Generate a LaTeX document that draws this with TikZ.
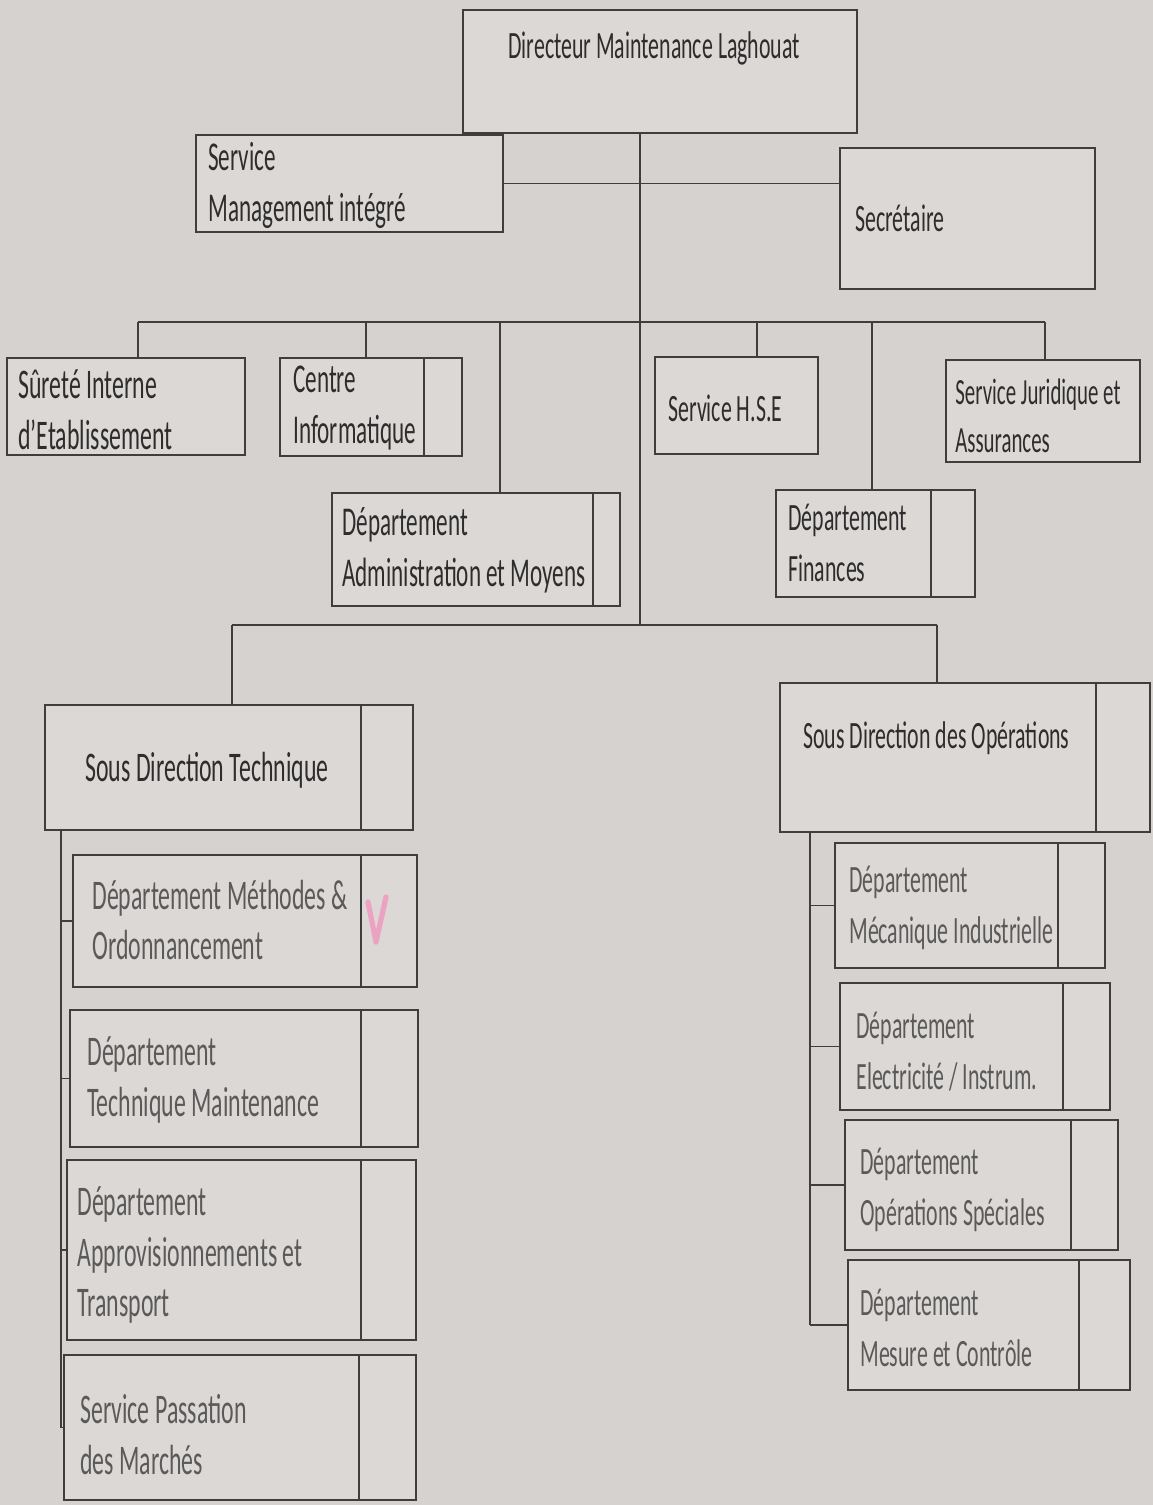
\documentclass[tikz,border=0pt]{standalone}
\usepackage{fontspec}
\setmainfont{Carlito}[FakeStretch=0.565]
\usetikzlibrary{fit,calc}
\definecolor{bgc}{RGB}{214,210,208}
\definecolor{boxc}{RGB}{220,216,214}
\definecolor{linec}{RGB}{62,62,62}
\definecolor{textc}{RGB}{45,45,45}
\definecolor{textl}{RGB}{90,90,90}
\definecolor{pinkc}{RGB}{240,150,190}
\begin{document}
\begin{tikzpicture}[x=0.02cm,y=-0.02cm,
  box/.style={draw=linec, fill=boxc, line width=1pt, inner sep=0pt},
  wire/.style={draw=linec, line width=1pt},
  txt/.style={anchor=west, align=left, inner sep=0pt, text=textc,
    font=\fontsize{22}{29}\selectfont},
  txtm/.style={txt, font=\fontsize{23.3}{29}\selectfont},
  txtb/.style={txt, font=\fontsize{24}{29}\selectfont},
  txtl/.style={txt, text=textl},
  txtlb/.style={txtb, text=textl},
  txts/.style={txt, font=\fontsize{21}{27}\selectfont}]
\newcommand\divline[2]{\draw[wire] ([xshift={-(#2)*0.02cm}]#1.north east) -- ([xshift={-(#2)*0.02cm}]#1.south east);}
% background / bounding box
\fill[bgc] (0,0) rectangle (1153,1505);

% ---------- boxes ----------
\node[box, fit={(463,10) (857,133)}] (dir) {};
\node[box, fit={(196,135) (503,232)}] (smi) {};
\node[box, fit={(840,148) (1095,289)}] (sec) {};

\node[box, fit={(7,358) (245,455)}] (sie) {};
\node[box, fit={(280,358) (462,456)}] (ci) {};
\node[box, fit={(655,357) (818,454)}] (hse) {};
\node[box, fit={(946,360) (1140,462)}] (sja) {};
\node[box, fit={(332,493) (620,606)}] (dam) {};
\node[box, fit={(776,490) (975,597)}] (dfi) {};

\node[box, fit={(45,705) (413,830)}] (sdt) {};
\node[box, fit={(780,683) (1150,832)}] (sdo) {};

\node[box, fit={(73,855) (417,987)}] (dmo) {};
\node[box, fit={(70,1010) (418,1147)}] (dtm) {};
\node[box, fit={(67,1160) (416,1340)}] (dat) {};
\node[box, fit={(64,1355) (416,1500)}] (spm) {};

\node[box, fit={(835,843) (1105,968)}] (dmi) {};
\node[box, fit={(840,983) (1110,1110)}] (dei) {};
\node[box, fit={(845,1120) (1118,1250)}] (dos) {};
\node[box, fit={(848,1260) (1130,1390)}] (dmc) {};

% ---------- dividers ----------
\divline{ci}{39}
\divline{dam}{28}
\divline{dfi}{45}
\divline{sdt}{53}
\divline{sdo}{55}
\divline{dmo}{57}
\divline{dtm}{58}
\divline{dat}{56}
\divline{spm}{58}
\divline{dmi}{48}
\divline{dei}{48}
\divline{dos}{48}
\divline{dmc}{52}

% ---------- connectors ----------
\coordinate (t1) at (640,322);
\coordinate (t2) at (640,625);
\draw[wire] (dir.south -| t1) -- (t2);
\draw[wire] (smi.east) -- (smi.east -| sec.west);

\coordinate (b1) at (138,322);
\coordinate (b2) at (366,322);
\coordinate (b3) at (500,322);
\coordinate (b4) at (757,322);
\coordinate (b5) at (872,322);
\coordinate (b6) at (1045,322);
\draw[wire] (b1) -- (b6);
\draw[wire] (b1) -- (b1 |- sie.north);
\draw[wire] (b2) -- (b2 |- ci.north);
\draw[wire] (b3) -- (b3 |- dam.north);
\draw[wire] (b4) -- (b4 |- hse.north);
\draw[wire] (b5) -- (b5 |- dfi.north);
\draw[wire] (b6) -- (b6 |- sja.north);

\coordinate (c1) at (232,625);
\coordinate (c2) at (937,625);
\draw[wire] (c1) -- (c2);
\draw[wire] (c1) -- (c1 |- sdt.north);
\draw[wire] (c2) -- (c2 |- sdo.north);

\coordinate (ls) at (61,830);
\draw[wire] (ls |- sdt.south) -- (ls |- spm.west);
\foreach \b in {dmo,dtm,dat,spm} \draw[wire] (ls |- \b.west) -- (\b.west);

\coordinate (rs) at (810,832);
\draw[wire] (rs |- sdo.south) -- (rs |- dmc.west);
\foreach \b in {dmi,dei,dos,dmc} \draw[wire] (rs |- \b.west) -- (\b.west);

% ---------- texts ----------
\node[txt] (dir-t) at (508,48) {Directeur Maintenance Laghouat};
\node[txtm] (smi-t) at (208,185) {Service\\Management intégré};
\node[txt] (sec-t) at (855,218) {Secrétaire};
\node[txtb] (sie-t) at (18,410) {Sûreté Interne\\d’Etablissement};
\node[txtm] (ci-t) at (293,408) {Centre\\Informatique};
\node[txt] (hse-t) at (668,408) {Service H.S.E};
\node[txts] (sja-t) at (955,416) {Service Juridique et\\Assurances};
\node[txtm] (dam-t) at (342,550) {Département\\Administration et Moyens};
\node[txt] (dfi-t) at (788,543) {Département\\Finances};
\node[txtb] (sdt-t) at (85,770) {Sous Direction Technique};
\node[txt] (sdo-t) at (803,738) {Sous Direction des Opérations};
\node[txtlb] (dmo-t) at (92,920) {Département Méthodes \&\\Ordonnancement};
\node[txtlb] (dtm-t) at (87,1080) {Département\\Technique Maintenance};
\node[txtlb] (dat-t) at (77,1255) {Département\\Approvisionnements et\\Transport};
\node[txtlb] (spm-t) at (80,1435) {Service Passation\\des Marchés};
\node[txtl] (dmi-t) at (849,908) {Département\\Mécanique Industrielle};
\node[txtl] (dei-t) at (856,1052) {Département\\Electricité / Instrum.};
\node[txtl] (dos-t) at (860,1190) {Département\\Opérations Spéciales};
\node[txtl] (dmc-t) at (860,1328) {Département\\Mesure et Contrôle};

% pink check mark
\draw[pinkc, line width=3pt, line cap=round, line join=round, opacity=0.8]
  (368,902) -- (376,942) -- (386,897);
\end{tikzpicture}
\end{document}
